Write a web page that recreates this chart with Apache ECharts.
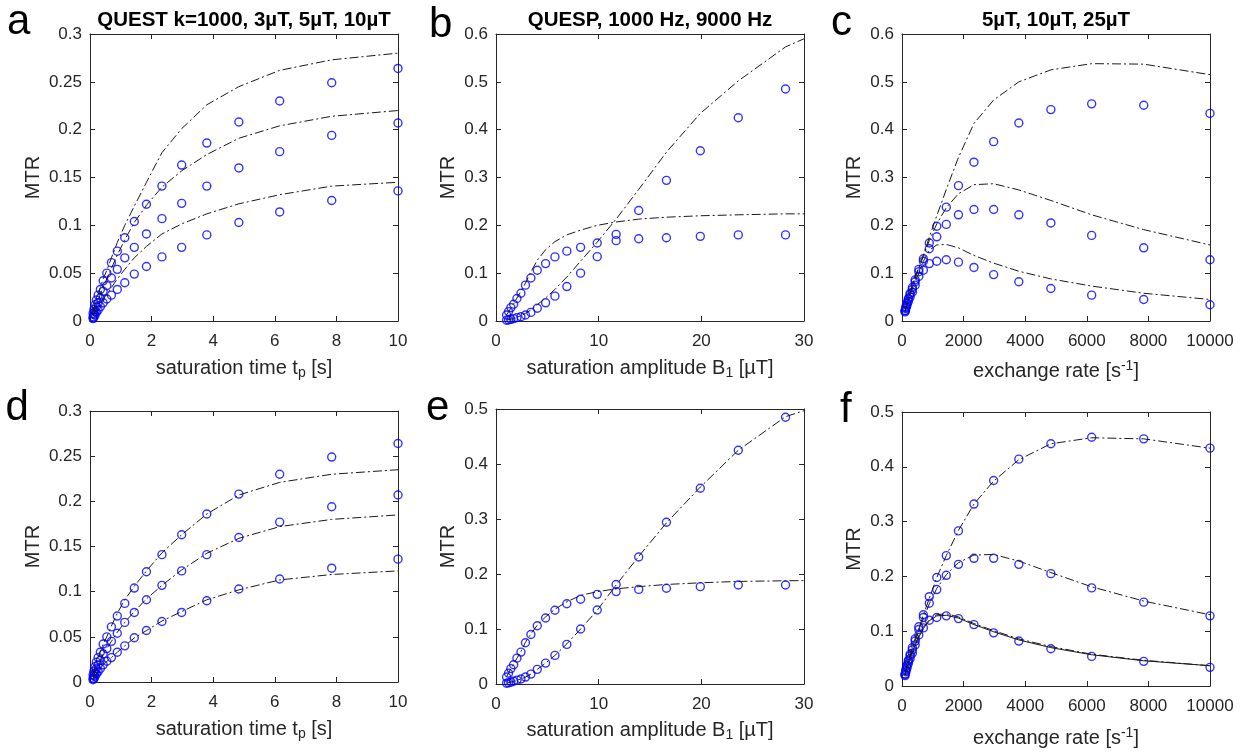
<!DOCTYPE html>
<html>
<head>
<meta charset="utf-8">
<script src="https://cdn.jsdelivr.net/npm/echarts@6/dist/echarts.min.js"></script>
<style>
  html, body { margin: 0; padding: 0; background: #fff; }
  #chart { width: 1244px; height: 753px; }
</style>
</head>
<body>
<div id="chart"></div>
<script>
// saturation times (s) for QUEST, exchange rates (1/s) and B1 (uT) for QUESP / k-sweep
const tp = [0.1, 0.127, 0.162, 0.207, 0.264, 0.336, 0.428, 0.546, 0.695, 0.886, 1.129, 1.438, 1.833, 2.336, 2.976, 3.793, 4.833, 6.158, 7.848, 10];
const B1 = [1.03, 1.22, 1.45, 1.72, 2.04, 2.43, 2.87, 3.4, 4.02, 4.83, 5.74, 6.9, 8.24, 9.86, 11.7, 13.9, 16.6, 19.9, 23.6, 28.2];
const B1Fit = [1.03, 1.22, 1.45, 1.72, 2.04, 2.43, 2.87, 3.4, 4.02, 4.83, 5.74, 6.9, 8.24, 9.86, 11.7, 13.9, 16.6, 19.9, 23.6, 28.2, 30];
const kex = [100, 127, 162, 207, 264, 336, 428, 546, 695, 886, 1129, 1438, 1833, 2336, 2976, 3793, 4833, 6158, 7848, 10000];

// QUEST measured MTR (a, d)
const quest10 = [0.008, 0.012, 0.017, 0.022, 0.027, 0.033, 0.042, 0.050, 0.061, 0.073, 0.087, 0.104, 0.122, 0.141, 0.163, 0.186, 0.208, 0.230, 0.249, 0.264];
const quest5 = [0.004, 0.007, 0.010, 0.015, 0.019, 0.024, 0.031, 0.037, 0.045, 0.054, 0.066, 0.077, 0.091, 0.107, 0.123, 0.141, 0.160, 0.177, 0.194, 0.207];
const quest3 = [0.0025, 0.004, 0.006, 0.009, 0.0115, 0.015, 0.019, 0.023, 0.027, 0.033, 0.040, 0.049, 0.057, 0.067, 0.077, 0.090, 0.103, 0.114, 0.126, 0.136];
// QUEST curves, k=1000 (a)
const quest10FitA = [0.010, 0.013, 0.017, 0.022, 0.028, 0.035, 0.044, 0.053, 0.066, 0.082, 0.100, 0.120, 0.145, 0.176, 0.201, 0.226, 0.245, 0.262, 0.273, 0.280];
const quest5FitA = [0.006, 0.009, 0.013, 0.017, 0.022, 0.028, 0.036, 0.044, 0.055, 0.069, 0.085, 0.103, 0.121, 0.140, 0.157, 0.174, 0.191, 0.204, 0.214, 0.220];
const quest3FitA = [0.005, 0.0068, 0.009, 0.0115, 0.0145, 0.018, 0.023, 0.028, 0.035, 0.044, 0.054, 0.066, 0.078, 0.091, 0.1015, 0.112, 0.1225, 0.132, 0.141, 0.145];
// QUEST fitted curves (d)
const quest10FitD = [0.009, 0.012, 0.016, 0.021, 0.027, 0.033, 0.042, 0.050, 0.062, 0.076, 0.091, 0.106, 0.123, 0.143, 0.163, 0.186, 0.207, 0.221, 0.230, 0.235];
const quest5FitD = [0.0045, 0.007, 0.0105, 0.0147, 0.019, 0.0245, 0.031, 0.037, 0.045, 0.055, 0.066, 0.078, 0.092, 0.107, 0.124, 0.1425, 0.159, 0.172, 0.180, 0.185];
const quest3FitD = [0.0025, 0.0042, 0.0063, 0.0088, 0.0115, 0.015, 0.019, 0.0228, 0.027, 0.033, 0.040, 0.0487, 0.057, 0.0675, 0.078, 0.091, 0.102, 0.113, 0.119, 0.123];

// QUESP measured MTR (b, e)
const quesp1000 = [0.0126, 0.0196, 0.028, 0.035, 0.047, 0.058, 0.075, 0.090, 0.106, 0.120, 0.134, 0.146, 0.154, 0.163, 0.168, 0.172, 0.174, 0.177, 0.180, 0.180];
const quesp9000 = [0.0015, 0.002, 0.0035, 0.005, 0.007, 0.009, 0.0126, 0.018, 0.0266, 0.038, 0.052, 0.072, 0.100, 0.1345, 0.181, 0.231, 0.294, 0.356, 0.425, 0.485];
const quesp1000FitB = [0.013, 0.019, 0.027, 0.036, 0.048, 0.062, 0.079, 0.103, 0.127, 0.149, 0.166, 0.180, 0.190, 0.200, 0.207, 0.213, 0.217, 0.220, 0.222, 0.224, 0.224];
const quesp9000FitB = [0.002, 0.003, 0.004, 0.006, 0.008, 0.011, 0.016, 0.023, 0.034, 0.048, 0.066, 0.092, 0.125, 0.165, 0.213, 0.275, 0.353, 0.434, 0.502, 0.573, 0.590];
const quesp1000FitE = [0.013, 0.0196, 0.028, 0.036, 0.047, 0.059, 0.076, 0.091, 0.107, 0.122, 0.136, 0.1495, 0.161, 0.168, 0.173, 0.177, 0.181, 0.184, 0.1865, 0.1877, 0.188];
const quesp9000FitE = [0.0015, 0.002, 0.0035, 0.005, 0.007, 0.009, 0.0126, 0.018, 0.0266, 0.038, 0.052, 0.073, 0.100, 0.134, 0.180, 0.232, 0.293, 0.358, 0.425, 0.486, 0.497];

// MTR vs exchange rate (c, f)
const mtr25 = [0.022, 0.030, 0.038, 0.047, 0.058, 0.070, 0.086, 0.108, 0.130, 0.163, 0.198, 0.238, 0.283, 0.332, 0.375, 0.414, 0.442, 0.454, 0.451, 0.434];
const mtr10 = [0.021, 0.028, 0.036, 0.045, 0.055, 0.066, 0.082, 0.103, 0.125, 0.151, 0.176, 0.202, 0.222, 0.233, 0.233, 0.222, 0.205, 0.179, 0.153, 0.128];
const mtr5 = [0.019, 0.026, 0.033, 0.041, 0.050, 0.060, 0.075, 0.093, 0.106, 0.120, 0.125, 0.128, 0.123, 0.112, 0.097, 0.082, 0.068, 0.054, 0.045, 0.034];
const fitC25 = [0.022, 0.029, 0.038, 0.048, 0.060, 0.074, 0.093, 0.113, 0.138, 0.175, 0.220, 0.275, 0.342, 0.413, 0.462, 0.500, 0.525, 0.538, 0.537, 0.515];
const fitC10 = [0.021, 0.029, 0.037, 0.047, 0.059, 0.072, 0.091, 0.110, 0.136, 0.168, 0.203, 0.237, 0.266, 0.285, 0.287, 0.274, 0.252, 0.222, 0.191, 0.159];
const fitC5 = [0.020, 0.027, 0.035, 0.044, 0.055, 0.067, 0.083, 0.100, 0.125, 0.148, 0.159, 0.160, 0.153, 0.137, 0.121, 0.104, 0.088, 0.073, 0.058, 0.045];
const fitF25 = [0.022, 0.030, 0.038, 0.047, 0.058, 0.070, 0.087, 0.105, 0.130, 0.160, 0.198, 0.238, 0.284, 0.332, 0.374, 0.413, 0.442, 0.453, 0.451, 0.434];
const fitF10 = [0.021, 0.028, 0.036, 0.045, 0.055, 0.067, 0.083, 0.100, 0.123, 0.150, 0.178, 0.203, 0.225, 0.239, 0.240, 0.228, 0.207, 0.181, 0.155, 0.130];
const fitF5 = [0.020, 0.027, 0.034, 0.042, 0.052, 0.062, 0.077, 0.091, 0.107, 0.121, 0.130, 0.132, 0.126, 0.114, 0.101, 0.086, 0.072, 0.058, 0.047, 0.037];
const fitF5solid = [0.020, 0.027, 0.034, 0.042, 0.051, 0.061, 0.075, 0.089, 0.105, 0.119, 0.128, 0.129, 0.124, 0.112, 0.099, 0.084, 0.070, 0.057, 0.046, 0.037];

const titles = ['QUEST k=1000, 3µT, 5µT, 10µT', 'QUESP, 1000 Hz, 9000 Hz', '5µT, 10µT, 25µT'];
const letters = ['a', 'b', 'c', 'd', 'e', 'f'];

const FONT = '"Liberation Sans", Arial, Helvetica, sans-serif';
const AX = '#262626';
const DASHDOT = [9, 3, 2, 3];

const grids = [
  { left: 90, top: 34, width: 308, height: 287 },
  { left: 496, top: 34, width: 308, height: 287 },
  { left: 902, top: 34, width: 308, height: 287 },
  { left: 90, top: 411, width: 308, height: 271 },
  { left: 496, top: 409, width: 308, height: 275 },
  { left: 902, top: 412, width: 308, height: 274 }
];

const nameRich = {
  n: { fontSize: 20, fontFamily: FONT, color: AX, lineHeight: 24 },
  s: { fontSize: 14, fontFamily: FONT, color: AX, lineHeight: 24, verticalAlign: 'bottom' },
  u: { fontSize: 14, fontFamily: FONT, color: AX, lineHeight: 24, verticalAlign: 'top' }
};
const xNames = {
  tp: '{n|saturation time t}{s|p}{n| [s]}',
  b1: '{n|saturation amplitude B}{s|1}{n| [µT]}',
  k: '{n|exchange rate [s}{u|-1}{n|]}'
};

const xAxes = [];
const yAxes = [];

function plain(v) {
  return String(+v.toFixed(6));
}

function addAxes(g, xr, yr, xName, xGap, yGap) {
  const line = { show: true, onZero: false, lineStyle: { color: AX, width: 1 } };
  const tick = { show: true, inside: true, length: 5, lineStyle: { color: AX, width: 1 } };
  const label = { show: true, fontSize: 17, color: AX, fontFamily: FONT, formatter: plain };
  xAxes.push({
    gridIndex: g, type: 'value', position: 'bottom',
    min: xr[0], max: xr[1], interval: xr[2],
    axisLine: line, axisTick: tick, splitLine: { show: false },
    axisLabel: Object.assign({ margin: 12 }, label),
    name: xName, nameLocation: 'middle', nameGap: xGap,
    nameTextStyle: { rich: nameRich }
  });
  xAxes.push({
    gridIndex: g, type: 'value', position: 'top',
    min: xr[0], max: xr[1], interval: xr[2],
    axisLine: line, axisTick: tick, splitLine: { show: false },
    axisLabel: { show: false }
  });
  yAxes.push({
    gridIndex: g, type: 'value', position: 'left',
    min: yr[0], max: yr[1], interval: yr[2],
    axisLine: line, axisTick: tick, splitLine: { show: false },
    axisLabel: Object.assign({ margin: 8 }, label),
    name: 'MTR', nameLocation: 'middle', nameGap: yGap,
    nameTextStyle: { fontSize: 20, color: AX, fontFamily: FONT }
  });
  yAxes.push({
    gridIndex: g, type: 'value', position: 'right',
    min: yr[0], max: yr[1], interval: yr[2],
    axisLine: line, axisTick: tick, splitLine: { show: false },
    axisLabel: { show: false }
  });
}

addAxes(0, [0, 10, 2], [0, 0.3, 0.05], xNames.tp, 35, 47);
addAxes(1, [0, 30, 10], [0, 0.6, 0.1], xNames.b1, 35, 38);
addAxes(2, [0, 10000, 2000], [0, 0.6, 0.1], xNames.k, 38, 38);
addAxes(3, [0, 10, 2], [0, 0.3, 0.05], xNames.tp, 35, 47);
addAxes(4, [0, 30, 10], [0, 0.5, 0.1], xNames.b1, 34, 38);
addAxes(5, [0, 10000, 2000], [0, 0.5, 0.1], xNames.k, 40, 38);

function pairs(xs, ys) {
  return xs.map((x, i) => [x, ys[i]]);
}
function dots(g, xs, ys) {
  return {
    type: 'scatter', xAxisIndex: 2 * g, yAxisIndex: 2 * g,
    data: pairs(xs, ys), symbol: 'circle', symbolSize: 8,
    itemStyle: { color: 'rgba(0,0,0,0)', borderColor: '#0000ff', borderWidth: 1.4 },
    z: 2, silent: true
  };
}
function curve(g, xs, ys, type) {
  return {
    type: 'line', xAxisIndex: 2 * g, yAxisIndex: 2 * g,
    data: pairs(xs, ys), symbol: 'none', smooth: false,
    lineStyle: { color: '#1a1a1a', width: 1, type: type || DASHDOT },
    z: 3, silent: true
  };
}

const series = [
  // a
  dots(0, tp, quest10), dots(0, tp, quest5), dots(0, tp, quest3),
  curve(0, tp, quest10FitA), curve(0, tp, quest5FitA), curve(0, tp, quest3FitA),
  // b
  dots(1, B1, quesp1000), dots(1, B1, quesp9000),
  curve(1, B1Fit, quesp1000FitB), curve(1, B1Fit, quesp9000FitB),
  // c
  dots(2, kex, mtr25), dots(2, kex, mtr10), dots(2, kex, mtr5),
  curve(2, kex, fitC25), curve(2, kex, fitC10), curve(2, kex, fitC5),
  // d
  dots(3, tp, quest10), dots(3, tp, quest5), dots(3, tp, quest3),
  curve(3, tp, quest10FitD), curve(3, tp, quest5FitD), curve(3, tp, quest3FitD),
  // e
  dots(4, B1, quesp1000), dots(4, B1, quesp9000),
  curve(4, B1Fit, quesp1000FitE), curve(4, B1Fit, quesp9000FitE),
  // f
  dots(5, kex, mtr25), dots(5, kex, mtr10), dots(5, kex, mtr5),
  curve(5, kex, fitF25), curve(5, kex, fitF10), curve(5, kex, fitF5),
  curve(5, kex, fitF5solid, 'solid')
];

// panel letters and titles
const letterPos = [[7, 22.5], [429, 25], [831, 23.5], [5.5, 408.5], [426, 408], [840, 410]];
const graphic = [];
letters.forEach((t, i) => {
  graphic.push({
    type: 'text', x: letterPos[i][0], y: letterPos[i][1], silent: true,
    style: { text: t, font: '42px ' + FONT, fill: '#000', textAlign: 'left', textVerticalAlign: 'middle' }
  });
});
titles.forEach((t, i) => {
  graphic.push({
    type: 'text', x: grids[i].left + grids[i].width / 2, y: 20, silent: true,
    style: { text: t, font: 'bold 20.5px ' + FONT, fill: '#000', textAlign: 'center', textVerticalAlign: 'middle' }
  });
});

const chart = echarts.init(document.getElementById('chart'), null, { renderer: 'canvas' });
chart.setOption({
  animation: false,
  backgroundColor: '#fff',
  grid: grids.map(g => Object.assign({ containLabel: false, outerBoundsMode: 'none' }, g)),
  xAxis: xAxes,
  yAxis: yAxes,
  series: series,
  graphic: graphic
});
</script>
</body>
</html>
